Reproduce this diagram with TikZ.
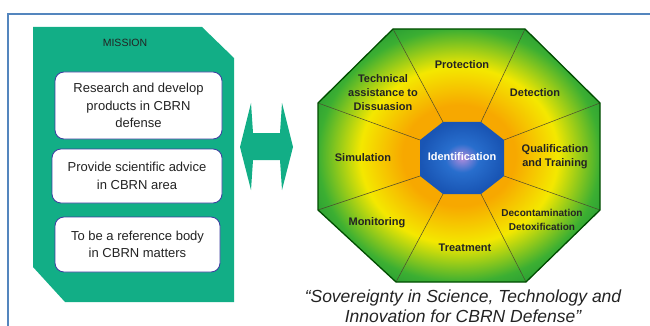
\documentclass[tikz,border=0pt]{standalone}
\usepackage{fontspec}
\setmainfont{Liberation Sans}
\usetikzlibrary{calc}
\definecolor{missiongreen}{RGB}{18,174,134}
\definecolor{frameblue}{RGB}{84,134,190}
\definecolor{boxedge}{RGB}{60,60,160}
\definecolor{glowOrange}{RGB}{247,168,0}
\definecolor{glowYellow}{RGB}{244,232,0}
\definecolor{glowGreen}{RGB}{60,175,50}
\definecolor{glowDark}{RGB}{20,140,55}
\definecolor{coreLight}{RGB}{175,140,220}
\definecolor{coreBlue}{RGB}{40,110,205}
\definecolor{coreDark}{RGB}{25,85,180}
\definecolor{inkgray}{RGB}{35,35,35}
\pgfdeclareradialshading{sectorglow}{\pgfpoint{0bp}{0bp}}{color(0bp)=(glowOrange); color(10bp)=(glowOrange); color(17.5bp)=(glowYellow); color(25bp)=(glowGreen); color(31bp)=(glowDark); color(50bp)=(glowDark)}
\pgfdeclareradialshading{coreglow}{\pgfpoint{0bp}{0bp}}{color(0bp)=(coreLight); color(10bp)=(coreBlue); color(25bp)=(coreDark); color(50bp)=(coreDark)}
\tikzset{
  missionbox/.style={draw=boxedge, line width=0.8pt, fill=white, rounded corners=9pt,
    align=center, text=inkgray, font=\fontsize{13}{17.5}\selectfont, inner sep=0pt},
  sector/.style={align=center, text=inkgray, inner sep=0pt,
    font=\bfseries\fontsize{11}{14}\selectfont},
  spoke/.style={draw=black!60!olive, line width=0.5pt}
}

\begin{document}
\begin{tikzpicture}[x=1pt,y=-1pt]
\useasboundingbox (0,0) rectangle (650,326);
\draw[frameblue, line width=1.2pt] (8,326) -- (8,14) -- (650,14);

\fill[missiongreen] (33,27) -- (202,27) -- (234,58) -- (234,302) -- (65,302) -- (33,267) -- cycle;
\node[text=inkgray, font=\fontsize{10.5}{12}\selectfont] (mission) at (125,43) {MISSION};
\node[missionbox, minimum width=167pt, minimum height=67pt] (goal1) at (138.5,105.5)
  {Research and develop\\products in CBRN\\defense};
\node[missionbox, minimum width=170pt, minimum height=54pt] (goal2) at (137,176)
  {Provide scientific advice\\in CBRN area};
\node[missionbox, minimum width=165pt, minimum height=55pt] (goal3) at (137.5,244.5)
  {To be a reference body\\in CBRN matters};

\fill[missiongreen] (240,147) -- (251,103) -- (253,133) -- (280,133) -- (282,103) -- (293,147)
  -- (282,190) -- (280,160) -- (253,160) -- (251,190) -- cycle;

\coordinate (o1) at (393,29);  \coordinate (o2) at (525,29);
\coordinate (o3) at (600,103); \coordinate (o4) at (600,210);
\coordinate (o5) at (526,282); \coordinate (o6) at (396,282);
\coordinate (o7) at (318,210); \coordinate (o8) at (318,103);
\coordinate (i1) at (443,122); \coordinate (i2) at (481,122);
\coordinate (i3) at (504,140); \coordinate (i4) at (504,176);
\coordinate (i5) at (481,194); \coordinate (i6) at (443,194);
\coordinate (i7) at (420,176); \coordinate (i8) at (420,140);

\shade[shading=sectorglow] (o1) -- (o2) -- (o3) -- (o4) -- (o5) -- (o6) -- (o7) -- (o8) -- cycle;
\foreach \k in {1,...,8} \draw[spoke] (i\k) -- (o\k);
\draw[black!70!green, line width=1.3pt, line join=round]
  (o1) -- (o2) -- (o3) -- (o4) -- (o5) -- (o6) -- (o7) -- (o8) -- cycle;
\shade[shading=coreglow] (i1) -- (i2) -- (i3) -- (i4) -- (i5) -- (i6) -- (i7) -- (i8) -- cycle;

\node[sector, text=white] (ident) at (462,157) {Identification};
\node[sector] (protect) at (462,65) {Protection};
\node[sector] (detect) at (535,93) {Detection};
\node[sector] (qualif) at (555,157) {Qualification\\and Training};
\node[sector, font=\bfseries\fontsize{10}{14}\selectfont] (decon) at (542,220) {Decontamination\\Detoxification};
\node[sector] (treat) at (465,248) {Treatment};
\node[sector] (monitor) at (377,223) {Monitoring};
\node[sector] (simul) at (363,158) {Simulation};
\node[sector] (techassist) at (383,93) {Technical\\assistance to\\Dissuasion};

\node[align=center, text=inkgray, inner sep=0pt, font=\itshape\fontsize{17.5}{20}\selectfont]
  (motto) at (463,306) {“Sovereignty in Science, Technology and\\Innovation for CBRN Defense”};
\end{tikzpicture}
\end{document}
